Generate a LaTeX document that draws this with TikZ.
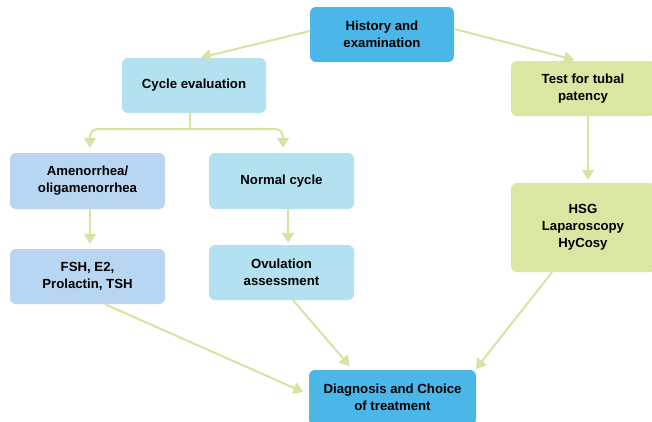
\documentclass[tikz,border=0pt]{standalone}
\usepackage{fontspec}
\setmainfont{Liberation Sans}
\usetikzlibrary{arrows.meta}
\definecolor{bluedark}{HTML}{4BB6E8}
\definecolor{cyanlight}{HTML}{B3E1EF}
\definecolor{bluelight}{HTML}{B8D6F1}
\definecolor{greenbox}{HTML}{D9E7A3}
\definecolor{arrowgreen}{HTML}{D5E4A0}
\tikzset{
  box/.style={rectangle, rounded corners=6pt, draw=none, align=center,
    font=\fontsize{13.2}{17}\selectfont\bfseries, inner sep=2pt},
  arr/.style={draw=arrowgreen, line width=2pt,
    -{Triangle[width=12pt,length=10pt]}},
  ln/.style={draw=arrowgreen, line width=2pt}
}
\begin{document}
\begin{tikzpicture}[x=1pt,y=-1pt]
\useasboundingbox (0,0) rectangle (652,421);
\node[box, fill=bluedark, minimum width=144pt, minimum height=55pt] (hist) at (382,34.5) {History and\\examination};
\node[box, fill=cyanlight, minimum width=144pt, minimum height=55pt] (cyc) at (194,85.5) {Cycle evaluation};
\node[box, fill=greenbox, minimum width=144pt, minimum height=55pt] (test) at (583,88.5) {Test for tubal\\patency};
\node[box, fill=bluelight, minimum width=155pt, minimum height=56pt] (amen) at (87.5,181) {Amenorrhea/\\oligamenorrhea};
\node[box, fill=cyanlight, minimum width=145pt, minimum height=56pt] (norm) at (281.5,181) {Normal cycle};
\node[box, fill=bluelight, minimum width=155pt, minimum height=55pt] (fsh) at (87.5,276.5) {FSH, E2,\\Prolactin, TSH};
\node[box, fill=cyanlight, minimum width=145pt, minimum height=55pt] (ovul) at (281.5,272.5) {Ovulation\\assessment};
\node[box, fill=greenbox, minimum width=144pt, minimum height=89pt] (hsg) at (583,227.5) {HSG\\Laparoscopy\\HyCosy};
\node[box, fill=bluedark, minimum width=167pt, minimum height=55pt] (diag) at (392.5,397.5) {Diagnosis and Choice\\of treatment};

\draw[arr, shorten >=1pt] ([yshift=3.5pt]hist.west) -- ([xshift=6pt]cyc.north);
\draw[arr, shorten >=4pt] ([yshift=5.5pt]hist.east) -- ([xshift=-5pt]test.north);

\coordinate (split) at ([xshift=-4pt]cyc.south |- 0,129);
\draw[ln] ([xshift=-4pt]cyc.south) -- (split);
\draw[arr, rounded corners=8pt, shorten >=5pt] (split) -| ([xshift=2.5pt]amen.north);
\draw[arr, rounded corners=8pt, shorten >=5pt] (split) -| ([xshift=1.5pt]norm.north);

\draw[arr, shorten >=5pt] ([xshift=2.5pt]amen.south) -- ([xshift=2.5pt]fsh.north);
\draw[arr, shorten >=2pt] ([xshift=6.5pt]norm.south) -- ([xshift=6.5pt]ovul.north);
\draw[arr, shorten >=3pt] ([xshift=5pt]test.south) -- ([xshift=5pt]hsg.north);

\draw[arr, shorten >=6pt] ([xshift=17.5pt]fsh.south) -- ([yshift=3pt]diag.west);
\draw[arr, shorten >=5pt] ([xshift=11.5pt]ovul.south) -- ([xshift=-39.5pt]diag.north);
\draw[arr, shorten >=1pt] ([xshift=-31pt]hsg.south) -- ([xshift=-1pt]diag.north east);
\end{tikzpicture}
\end{document}
